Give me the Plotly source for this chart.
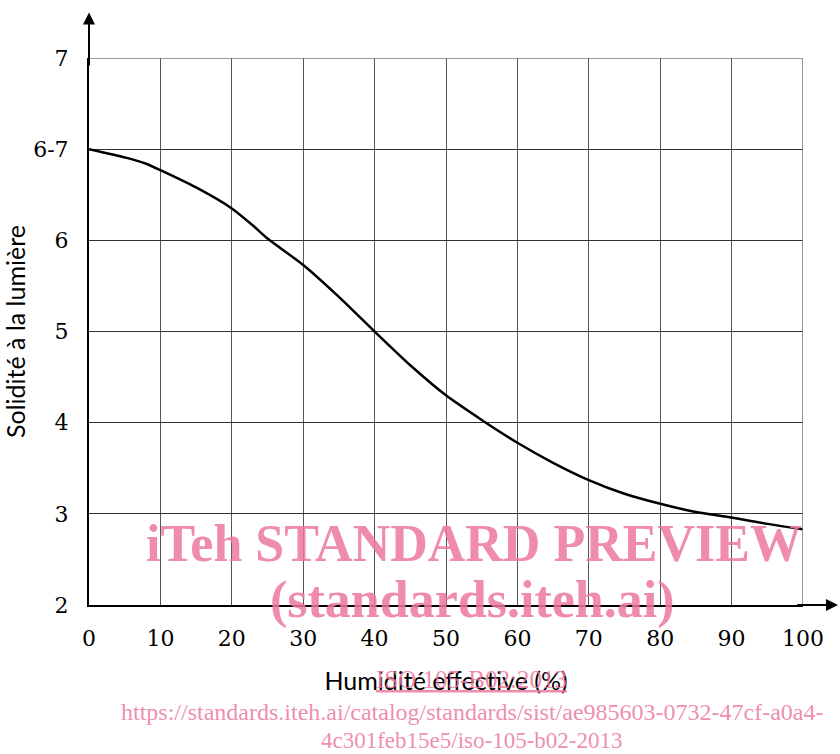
import plotly.graph_objects as go

# Data (y in tick-position units: 0="2", 1="3", ... 5="6-7", 6="7")
humidity = [0, 5, 8, 10, 15, 20, 23, 25, 30, 35, 40, 45, 50, 55, 60, 65, 70, 75, 80, 85, 90, 95, 100]
fastness = [5.0, 4.91, 4.84, 4.77, 4.58, 4.35, 4.16, 4.02, 3.73, 3.38, 3.0, 2.63, 2.30, 2.03, 1.78, 1.56, 1.37, 1.22, 1.11, 1.02, 0.96, 0.89, 0.83]
y_tickvals = [0, 1, 2, 3, 4, 5, 6]
y_ticktext = ["2", "3", "4", "5", "6", "6-7", "7"]
x_tickvals = [0, 10, 20, 30, 40, 50, 60, 70, 80, 90, 100]

pink = "rgba(236,120,158,0.85)"
tickfont = dict(family="DejaVu Serif, serif", size=22, color="black")
titlefont = dict(family="Lato, Open Sans, sans-serif", size=25, color="black")

W, H = 840, 754
L, R, T, B = 89, 37, 58, 149

fig = go.Figure()
fig.add_trace(go.Scatter(x=humidity, y=fastness, mode="lines",
                         line=dict(color="black", width=2.5, shape="spline", smoothing=0.6),
                         hoverinfo="skip", showlegend=False))

fig.update_layout(
    width=W, height=H,
    margin=dict(l=L, r=R, t=T, b=B, autoexpand=False),
    paper_bgcolor="white", plot_bgcolor="white",
    showlegend=False,
    xaxis=dict(range=[0, 100], tickvals=x_tickvals, showgrid=True, gridcolor="#555", gridwidth=1,
               zeroline=False, showline=True, linecolor="black", linewidth=2, automargin=False,
               ticks="outside", ticklen=13, tickcolor="rgba(0,0,0,0)", tickfont=tickfont,
               title=dict(text="Humidité effective (%)", font=titlefont, standoff=22)),
    yaxis=dict(range=[0, 6], tickvals=y_tickvals, ticktext=y_ticktext, showgrid=True, gridcolor="#333", gridwidth=1,
               zeroline=False, showline=True, linecolor="black", linewidth=2, automargin=False,
               ticks="outside", ticklen=14, tickcolor="rgba(0,0,0,0)", tickfont=tickfont,
               title=dict(text="Solidité à la lumière", font=titlefont, standoff=18)),
)

# top and right border
fig.add_shape(type="line", xref="x", yref="y", x0=0, x1=100, y0=6, y1=6, line=dict(color="#777", width=1.5))
fig.add_shape(type="line", xref="x", yref="y", x0=100, x1=100, y0=0, y1=6, line=dict(color="#777", width=1.5))

# axis arrows
fig.add_annotation(x=0, y=6.5, xref="x", yref="y", ax=0, ay=5.9, axref="x", ayref="y",
                   showarrow=True, arrowhead=2, arrowsize=1.2, arrowwidth=2, arrowcolor="black", text="")
fig.add_annotation(x=104.9, y=0, xref="x", yref="y", ax=99, ay=0, axref="x", ayref="y",
                   showarrow=True, arrowhead=2, arrowsize=1.2, arrowwidth=2, arrowcolor="black", text="")

# watermark (positions given in page pixels, converted to plot-area "paper" fractions)
wm = "Liberation Serif, DejaVu Serif, serif"
pw, ph = W - L - R, H - T - B
def px_ann(text, cx, cy, size, bold=False):
    fig.add_annotation(x=(cx - L) / pw, y=(H - B - cy) / ph, xref="paper", yref="paper",
                       xanchor="center", yanchor="middle",
                       text=("<b>%s</b>" % text) if bold else text, showarrow=False,
                       font=dict(family=wm, size=size, color=pink))
px_ann("iTeh STANDARD PREVIEW", 474, 543, 52, bold=True)
px_ann("(standards.iteh.ai)", 472, 600, 52, bold=True)
px_ann("<u>ISO 105-B02:2013</u>", 471, 679, 25)
px_ann("https://standards.iteh.ai/catalog/standards/sist/ae985603-0732-47cf-a0a4-", 472, 712, 24)
px_ann("4c301feb15e5/iso-105-b02-2013", 472, 740, 23)

fig.write_html("out.html", config={"displayModeBar": False},
               post_script="document.body.style.margin='0';")
